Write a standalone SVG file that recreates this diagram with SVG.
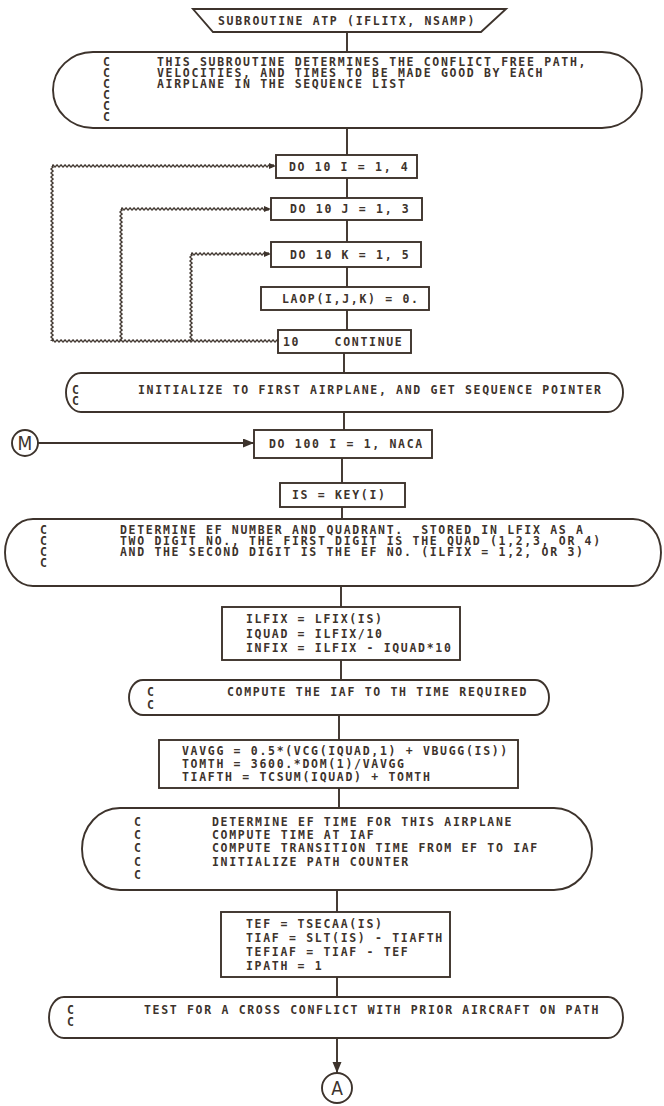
<svg xmlns="http://www.w3.org/2000/svg" width="664" height="1106" viewBox="0 0 664 1106">
<style>
.ln{fill:none;stroke:#3d332c;stroke-width:1.9}
.bx{fill:#fff;stroke:#3d332c;stroke-width:1.9}
.t{font-family:"DejaVu Sans Mono","Liberation Mono",monospace;font-weight:bold;font-size:11.5px;letter-spacing:1.68px;fill:#3d332c;white-space:pre}
.cn{font-family:"DejaVu Sans Condensed","DejaVu Sans",sans-serif;font-size:19px;fill:#3d332c;text-anchor:middle}
.wv{fill:url(#wv)}
.ah{fill:#3d332c}
</style>
<defs>
<pattern id="wv" width="4" height="6" x="0" y="-3" patternUnits="userSpaceOnUse">
<path d="M-2,3 Q-1,5 0,3 T2,3 T4,3 T6,3" fill="none" stroke="#3d332c" stroke-width="1.4"/>
</pattern>
<marker id="arr" markerWidth="12" markerHeight="10" refX="11" refY="4.5" orient="auto" markerUnits="userSpaceOnUse">
<path d="M0,0 L11,4.5 L0,9 Z" fill="#3d332c"/>
</marker>
</defs>
<rect width="664" height="1106" fill="#fff"/>

<g id="connectors">
<path class="ln" d="M347,32 V52 M347,128 V155 M347,178 V198 M347,220 V242 M347,267 V287 M347,310 V330"/>
<path class="ln" d="M344,353 V373 M344,412 V430 M342,458 V483 M342,507 V519 M341,586 V607 M341,660 V680 M339,715 V740 M339,788 V808 M337,890 V912 M337,977 V997"/>
<path class="ln" d="M337,1038 V1073" marker-end="url(#arr)"/>
<path class="ln" d="M38,443 H254" marker-end="url(#arr)"/>
<g id="loopI">
<g transform="translate(52,166)"><rect class="wv" x="0" y="-3" width="222" height="6"/></g>
<g transform="translate(52,166) rotate(90)"><rect class="wv" x="0" y="-3" width="175" height="6"/></g>
<g transform="translate(52,341)"><rect class="wv" x="0" y="-3" width="226" height="6"/></g>
<path class="ah" d="M276,166 L269,163 L269,169 Z"/>
</g>
<g id="loopJ">
<g transform="translate(121,209)"><rect class="wv" x="0" y="-3" width="148" height="6"/></g>
<g transform="translate(121,209) rotate(90)"><rect class="wv" x="0" y="-3" width="132" height="6"/></g>
<path class="ah" d="M271,209 L264,206 L264,212 Z"/>
</g>
<g id="loopK">
<g transform="translate(191,254)"><rect class="wv" x="0" y="-3" width="78" height="6"/></g>
<g transform="translate(191,254) rotate(90)"><rect class="wv" x="0" y="-3" width="87" height="6"/></g>
<path class="ah" d="M271,254 L264,251 L264,257 Z"/>
</g>
</g>

<g id="start">
<path class="bx" d="M193,9 L506,9 L481,32 L213,32 Z"/>
<text class="t" x="218" y="25">SUBROUTINE ATP (IFLITX, NSAMP)</text>
</g>

<g id="comment1">
<path class="bx" d="M93,52 H602 A40,38 0 0 1 602,128 H93 A40,38 0 0 1 93,52 Z"/>
<text class="t"><tspan x="103" y="66">C</tspan><tspan x="103" y="77">C</tspan><tspan x="103" y="88">C</tspan><tspan x="103" y="99">C</tspan><tspan x="103" y="110">C</tspan><tspan x="103" y="121">C</tspan></text>
<text class="t"><tspan x="157" y="66">THIS SUBROUTINE DETERMINES THE CONFLICT FREE PATH,</tspan><tspan x="157" y="77">VELOCITIES, AND TIMES TO BE MADE GOOD BY EACH</tspan><tspan x="157" y="88">AIRPLANE IN THE SEQUENCE LIST</tspan></text>
</g>

<g id="doI"><rect class="bx" x="276" y="155" width="141" height="23"/><text class="t" x="289" y="170.5">DO 10 I = 1, 4</text></g>
<g id="doJ"><rect class="bx" x="271" y="198" width="151" height="22"/><text class="t" x="290" y="213">DO 10 J = 1, 3</text></g>
<g id="doK"><rect class="bx" x="271" y="242" width="150" height="25"/><text class="t" x="290" y="258.5">DO 10 K = 1, 5</text></g>
<g id="laop"><rect class="bx" x="261" y="287" width="168" height="23"/><text class="t" x="282" y="302.5">LAOP(I,J,K) = 0.</text></g>
<g id="cont"><rect class="bx" x="278" y="330" width="133" height="23"/><text class="t" x="283" y="345.5">10    CONTINUE</text></g>

<g id="comment2">
<path class="bx" d="M81,373 H608 A15,19.5 0 0 1 608,412 H81 A15,19.5 0 0 1 81,373 Z"/>
<text class="t"><tspan x="72" y="394">C</tspan><tspan x="72" y="405">C</tspan></text>
<text class="t" x="138" y="394">INITIALIZE TO FIRST AIRPLANE, AND GET SEQUENCE POINTER</text>
</g>

<g id="connM"><circle class="bx" cx="25" cy="443" r="13"/><text class="cn" x="25" y="450">M</text></g>

<g id="do100"><rect class="bx" x="254" y="430" width="178" height="28"/><text class="t" x="269" y="448">DO 100 I = 1, NACA</text></g>
<g id="iskey"><rect class="bx" x="280" y="483" width="125" height="24"/><text class="t" x="292" y="499">IS = KEY(I)</text></g>

<g id="comment3">
<path class="bx" d="M33,519 H633 A28,33.5 0 0 1 633,586 H33 A28,33.5 0 0 1 33,519 Z"/>
<text class="t"><tspan x="40" y="534">C</tspan><tspan x="40" y="545">C</tspan><tspan x="40" y="556">C</tspan><tspan x="40" y="567">C</tspan></text>
<text class="t"><tspan x="120" y="534">DETERMINE EF NUMBER AND QUADRANT.  STORED IN LFIX AS A</tspan><tspan x="120" y="545">TWO DIGIT NO., THE FIRST DIGIT IS THE QUAD (1,2,3, OR 4)</tspan><tspan x="120" y="556">AND THE SECOND DIGIT IS THE EF NO. (ILFIX = 1,2, OR 3)</tspan></text>
</g>

<g id="ilfix">
<rect class="bx" x="222" y="607" width="238" height="53"/>
<text class="t"><tspan x="246" y="623">ILFIX = LFIX(IS)</tspan><tspan x="246" y="637.5">IQUAD = ILFIX/10</tspan><tspan x="246" y="652">INFIX = ILFIX - IQUAD*10</tspan></text>
</g>

<g id="comment4">
<path class="bx" d="M143,680 H535 A14,17.5 0 0 1 535,715 H143 A14,17.5 0 0 1 143,680 Z"/>
<text class="t"><tspan x="147" y="696">C</tspan><tspan x="147" y="708.5">C</tspan></text>
<text class="t" x="227" y="696">COMPUTE THE IAF TO TH TIME REQUIRED</text>
</g>

<g id="vavgg">
<rect class="bx" x="159" y="740" width="359" height="48"/>
<text class="t"><tspan x="182" y="755">VAVGG = 0.5*(VCG(IQUAD,1) + VBUGG(IS))</tspan><tspan x="182" y="768">TOMTH = 3600.*DOM(1)/VAVGG</tspan><tspan x="182" y="781">TIAFTH = TCSUM(IQUAD) + TOMTH</tspan></text>
</g>

<g id="comment5">
<path class="bx" d="M120,808 H554 A38,41 0 0 1 554,890 H120 A38,41 0 0 1 120,808 Z"/>
<text class="t"><tspan x="134" y="826">C</tspan><tspan x="134" y="839">C</tspan><tspan x="134" y="852">C</tspan><tspan x="134" y="865.5">C</tspan><tspan x="134" y="878.5">C</tspan></text>
<text class="t"><tspan x="212" y="826">DETERMINE EF TIME FOR THIS AIRPLANE</tspan><tspan x="212" y="839">COMPUTE TIME AT IAF</tspan><tspan x="212" y="852">COMPUTE TRANSITION TIME FROM EF TO IAF</tspan><tspan x="212" y="865.5">INITIALIZE PATH COUNTER</tspan></text>
</g>

<g id="tef">
<rect class="bx" x="221" y="912" width="229" height="65"/>
<text class="t"><tspan x="246" y="927.5">TEF = TSECAA(IS)</tspan><tspan x="246" y="941.5">TIAF = SLT(IS) - TIAFTH</tspan><tspan x="246" y="955.5">TEFIAF = TIAF - TEF</tspan><tspan x="246" y="969.5">IPATH = 1</tspan></text>
</g>

<g id="comment6">
<path class="bx" d="M64,997 H608 A15,20.5 0 0 1 608,1038 H64 A15,20.5 0 0 1 64,997 Z"/>
<text class="t"><tspan x="67" y="1014">C</tspan><tspan x="67" y="1026">C</tspan></text>
<text class="t" x="144" y="1014">TEST FOR A CROSS CONFLICT WITH PRIOR AIRCRAFT ON PATH</text>
</g>

<g id="connA"><circle class="bx" cx="337" cy="1088" r="15"/><text class="cn" x="337" y="1095">A</text></g>
</svg>
